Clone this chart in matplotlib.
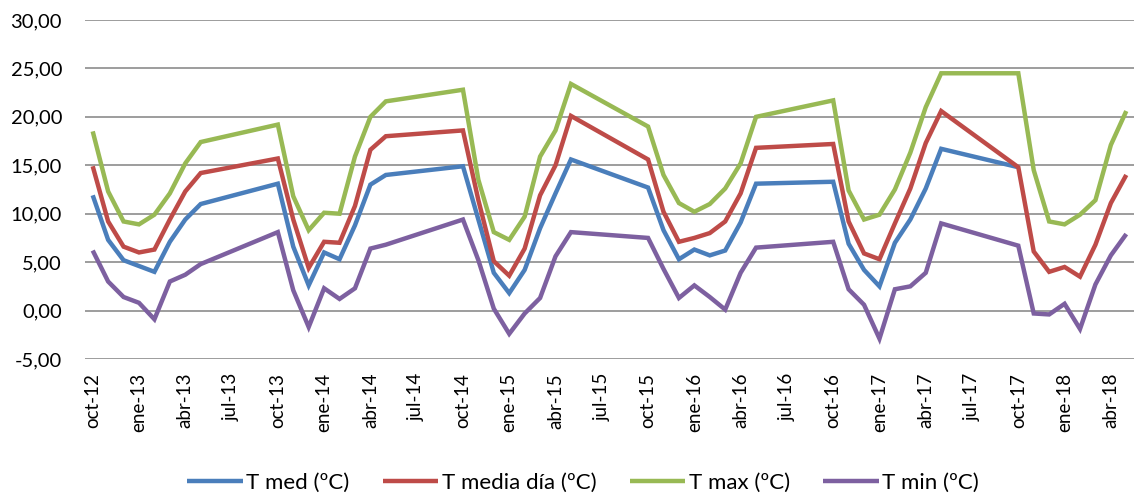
import numpy as np
import matplotlib
matplotlib.use("Agg")
import matplotlib.pyplot as plt

plt.rcParams['font.family'] = ['Lato', 'DejaVu Sans']

# Observed months (year, month); summer months are not recorded
meses = [
    (2012, 10), (2012, 11), (2012, 12), (2013, 1), (2013, 2), (2013, 3), (2013, 4), (2013, 5),
    (2013, 10), (2013, 11), (2013, 12), (2014, 1), (2014, 2), (2014, 3), (2014, 4), (2014, 5),
    (2014, 10), (2014, 11), (2014, 12), (2015, 1), (2015, 2), (2015, 3), (2015, 4), (2015, 5),
    (2015, 10), (2015, 11), (2015, 12), (2016, 1), (2016, 2), (2016, 3), (2016, 4), (2016, 5),
    (2016, 10), (2016, 11), (2016, 12), (2017, 1), (2017, 2), (2017, 3), (2017, 4), (2017, 5),
    (2017, 10), (2017, 11), (2017, 12), (2018, 1), (2018, 2), (2018, 3), (2018, 4), (2018, 5),
]

t_med = [
    11.9, 7.3, 5.2, 4.6, 4.0, 7.1, 9.4, 11.0,
    13.1, 6.6, 2.6, 6.0, 5.3, 8.8, 13.0, 14.0,
    14.9, 9.4, 3.9, 1.8, 4.2, 8.5, 12.1, 15.6,
    12.7, 8.3, 5.3, 6.3, 5.7, 6.2, 9.1, 13.1,
    13.3, 6.9, 4.2, 2.5, 7.0, 9.4, 12.6, 16.7,
    14.8, np.nan, np.nan, np.nan, np.nan, np.nan, np.nan, np.nan,
]
t_media_dia = [
    14.9, 9.2, 6.6, 6.0, 6.3, 9.4, 12.3, 14.2,
    15.7, 9.4, 4.4, 7.1, 7.0, 10.8, 16.6, 18.0,
    18.6, 11.4, 5.1, 3.6, 6.4, 11.9, 15.0, 20.1,
    15.6, 10.2, 7.1, 7.5, 8.0, 9.2, 12.1, 16.8,
    17.2, 9.2, 5.9, 5.3, 9.0, 12.6, 17.3, 20.6,
    14.8, 6.1, 4.0, 4.5, 3.5, 6.8, 11.1, 14.0,
]
t_max = [
    18.5, 12.3, 9.2, 8.9, 9.9, 12.1, 15.2, 17.4,
    19.2, 11.8, 8.3, 10.1, 10.0, 15.9, 20.0, 21.6,
    22.8, 13.5, 8.1, 7.3, 9.7, 15.9, 18.6, 23.4,
    19.0, 14.0, 11.1, 10.2, 11.0, 12.6, 15.2, 20.0,
    21.7, 12.4, 9.4, 9.9, 12.5, 16.3, 21.0, 24.5,
    24.5, 14.5, 9.2, 8.9, 9.9, 11.4, 17.1, 20.6,
]
t_min = [
    6.2, 3.0, 1.4, 0.8, -0.9, 3.0, 3.7, 4.8,
    8.1, 2.1, -1.7, 2.3, 1.2, 2.3, 6.4, 6.8,
    9.4, 5.2, 0.2, -2.4, -0.3, 1.3, 5.6, 8.1,
    7.5, 4.3, 1.3, 2.6, 1.4, 0.1, 3.9, 6.5,
    7.1, 2.2, 0.6, -2.9, 2.2, 2.5, 3.9, 9.0,
    6.7, -0.3, -0.4, 0.7, -1.9, 2.7, 5.7, 7.9,
]

series = [
    ("T med (ºC)", t_med, "#4A7EBB"),
    ("T media día (ºC)", t_media_dia, "#BE4B48"),
    ("T max (ºC)", t_max, "#98B954"),
    ("T min (ºC)", t_min, "#7D60A0"),
]

nombres_mes = ["ene", "feb", "mar", "abr", "may", "jun",
               "jul", "ago", "sep", "oct", "nov", "dic"]

# month index counted from the first observation
y0, mo0 = meses[0]
x = np.array([(y - y0) * 12 + (m - mo0) for y, m in meses], dtype=float)

fig = plt.figure(figsize=(11.35, 4.98), dpi=100)
ax = fig.add_axes([85 / 1135, 139 / 498, (1134 - 85) / 1135, (359 - 20) / 498])

for nombre, vals, color in series:
    v = np.asarray(vals, dtype=float)
    ok = ~np.isnan(v)
    ax.plot(x[ok], v[ok], color=color, lw=3.2, label=nombre,
            solid_joinstyle='miter', solid_capstyle='butt')

ax.set_ylim(-5, 30)
yt = np.arange(-5, 31, 5)
ax.set_yticks(yt)
ax.set_yticklabels([f"{v:.2f}".replace(".", ",") for v in yt],
                   fontsize=14.5, color="#000000")

ax.set_xlim(-0.5, x.max() + 0.5)
ticks = np.arange(0, x.max() + 1, 3)
labels = []
for t in ticks:
    total = mo0 - 1 + int(t)
    labels.append(f"{nombres_mes[total % 12]}-{(y0 + total // 12) % 100:02d}")
ax.set_xticks(ticks)
ax.set_xticklabels(labels, rotation=90, fontsize=13.5)

ax.grid(axis='y', color="#8C8C8C", lw=1.2)
ax.set_axisbelow(True)
for s in ax.spines.values():
    s.set_visible(False)
ax.tick_params(axis='both', length=0)
ax.tick_params(axis='x', pad=10)
ax.tick_params(axis='y', pad=16.5)

fig.legend(loc='center', bbox_to_anchor=(0.5137, 0.03), ncol=4, frameon=False,
           fontsize=16, handlelength=2.5, columnspacing=1.5, handletextpad=0.15)

fig.savefig("out.png", dpi=100)
